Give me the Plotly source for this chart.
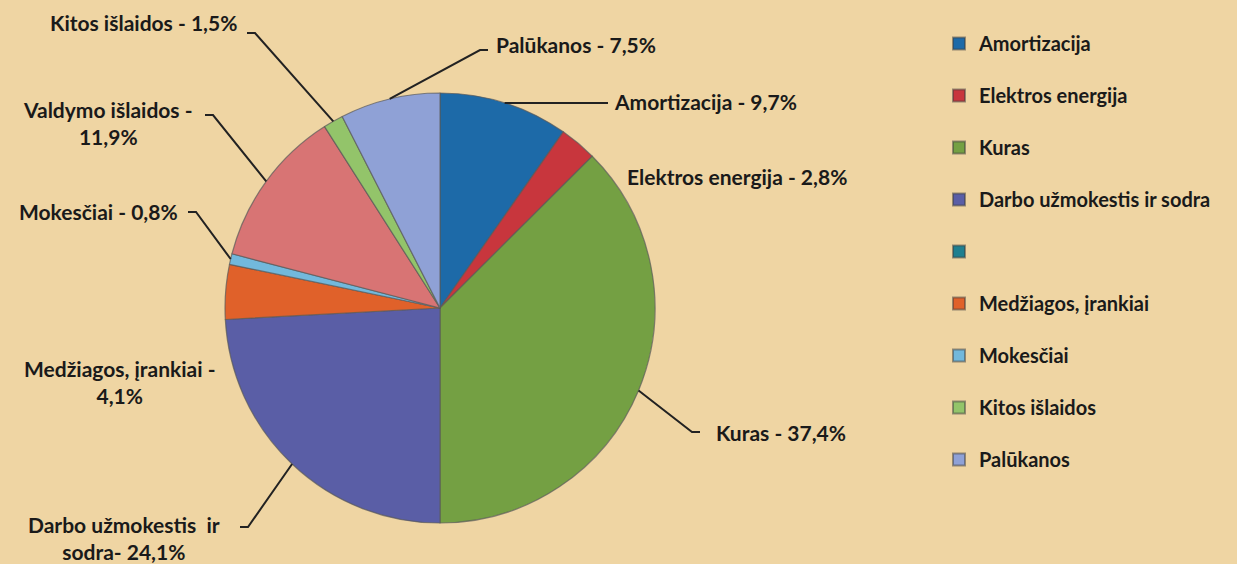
import math
import plotly.graph_objects as go

# ---- data ----
slice_labels = ["Amortizacija", "Elektros energija", "Kuras", "Darbo užmokestis ir sodra",
                "Medžiagos, įrankiai", "Mokesčiai", "Valdymo išlaidos", "Kitos išlaidos", "Palūkanos"]
slice_values = [9.7, 2.8, 37.4, 24.1, 4.1, 0.8, 11.9, 1.5, 7.5]
slice_colors = ["#1d6aa8", "#c8363d", "#74a043", "#5a5ea6", "#e0612a", "#72b8dc",
                "#d87474", "#93c46a", "#8fa1d6"]
label_texts = ["Amortizacija - 9,7%", "Elektros energija - 2,8%", "Kuras - 37,4%",
               "Darbo užmokestis  ir<br>sodra- 24,1%", "Medžiagos, įrankiai -<br>4,1%",
               "Mokesčiai - 0,8%", "Valdymo išlaidos -<br>11,9%", "Kitos išlaidos - 1,5%",
               "Palūkanos - 7,5%"]
legend_names = ["Amortizacija", "Elektros energija", "Kuras", "Darbo užmokestis ir sodra", " ",
                "Medžiagos, įrankiai", "Mokesčiai", "Kitos išlaidos", "Palūkanos"]
legend_colors = ["#1d6aa8", "#c8363d", "#74a043", "#5a5ea6", "#1f7f8f",
                 "#e0612a", "#72b8dc", "#93c46a", "#8fa1d6"]

W, H = 1237, 564
BG = "#efd5a3"
CX, CY, R = 440, 308, 215

def px(x):
    return x / W

def py(y):
    return 1 - y / H

fig = go.Figure()
fig.add_trace(go.Pie(
    labels=slice_labels, values=slice_values, sort=False, direction="clockwise",
    rotation=0, marker=dict(colors=slice_colors, line=dict(color="rgba(90,90,90,0.7)", width=1.2)),
    textinfo="none", hoverinfo="label+percent", showlegend=False,
    domain=dict(x=[px(CX - R), px(CX + R)], y=[py(CY + R), py(CY - R)]),
))

# legend via dummy traces
for i, (n, c) in enumerate(zip(legend_names, legend_colors)):
    fig.add_trace(go.Scatter(x=[None], y=[None], mode="markers", name=n,
                             legendgroup=f"g{i}",
                             marker=dict(symbol="square", size=12, color=c,
                                         line=dict(color="rgba(60,60,60,0.5)", width=1))))

# label positions (layout) : (text x, text y, anchor, leader end x, leader end y or None)
label_pos = [
    (612, 102, "left", 608, 103),
    (625, 176, "left", None, None),
    (714, 432, "left", 700, 432),
    (124, 538, "center", 240, 527),
    (120, 382, "center", None, None),
    (98, 211, "center", 188, 212),
    (108, 123, "center", 205, 115),
    (143, 22, "center", 247, 33),
    (576, 45, "center", 488, 50),
]

total = sum(slice_values)
cum = 0.0
annotations = []
shapes = []
for v, txt, (tx, ty, anc, lx, ly) in zip(slice_values, label_texts, label_pos):
    mid = (cum + v / 2) / total * 2 * math.pi
    cum += v
    ex = CX + R * math.sin(mid)
    ey = CY - R * math.cos(mid)
    annotations.append(dict(x=px(tx), y=py(ty), xref="paper", yref="paper", text=txt,
                            showarrow=False, xanchor=anc, yanchor="middle", align="center",
                            font=dict(family="Lato", size=21, color="#1a1a1a", weight="bold")))
    if lx is not None:
        hx = lx + (8 if lx < ex else -8)
        shapes.append(dict(type="path", xref="paper", yref="paper",
                           path=f"M {px(ex)} {py(ey)} L {px(hx)} {py(ly)} L {px(lx)} {py(ly)}",
                           line=dict(color="#222222", width=2)))

fig.update_layout(
    width=W, height=H, margin=dict(l=0, r=0, t=0, b=0),
    paper_bgcolor=BG, plot_bgcolor=BG,
    xaxis=dict(visible=False), yaxis=dict(visible=False),
    annotations=annotations, shapes=shapes,
    legend=dict(x=px(939), y=py(24), xanchor="left", yanchor="top",
                font=dict(family="Lato", size=20, color="#1a1a1a", weight="bold"),
                tracegroupgap=23, bgcolor="rgba(0,0,0,0)", itemsizing="constant"),
    showlegend=True,
)

fig.write_html("out.html", config={"displayModeBar": False},
               post_script="document.body.style.margin='0';document.body.style.padding='0';")
